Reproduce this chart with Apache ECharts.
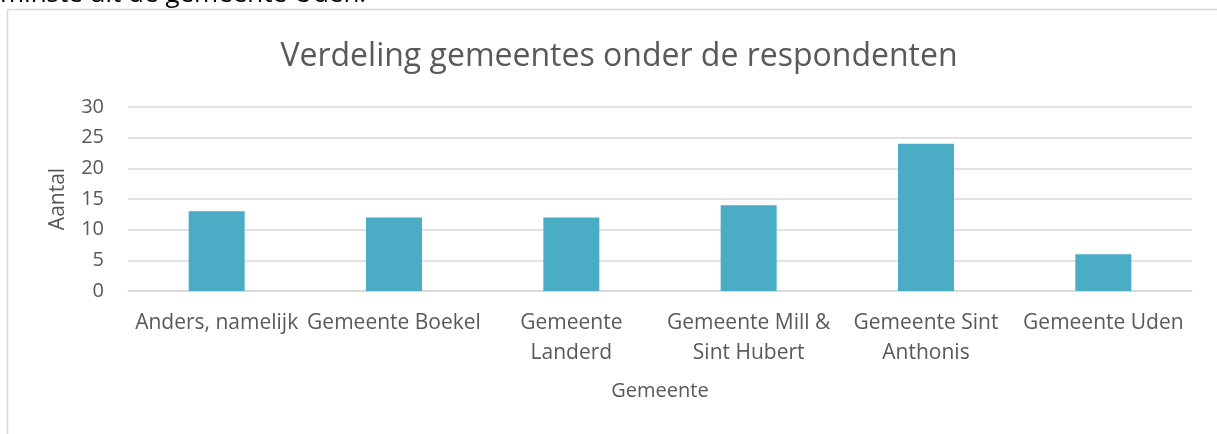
<!DOCTYPE html>
<html>
<head>
<meta charset="utf-8">
<script src="https://cdn.jsdelivr.net/npm/echarts@6/dist/echarts.min.js"></script>
<style>
  html, body { margin: 0; padding: 0; background: #fff; }
  #chart { width: 1217px; height: 434px; }
</style>
</head>
<body>
<div id="chart"></div>
<script>
// data
var categories = [
  "Anders, namelijk",
  "Gemeente Boekel",
  "Gemeente\nLanderd",
  "Gemeente Mill &\nSint Hubert",
  "Gemeente Sint\nAnthonis",
  "Gemeente Uden"
];
var aantal = [13, 12, 12, 14, 24, 6];
var yTicks = [0, 5, 10, 15, 20, 25, 30];

var textColor = "#595959";
var fontName = "Open Sans";

var chart = echarts.init(document.getElementById("chart"));

var option = {
  backgroundColor: "#fff",
  animation: false,
  title: {
    text: "Verdeling gemeentes onder de respondenten",
    left: 614,
    textAlign: "center",
    top: 36,
    textStyle: {
      color: textColor,
      fontFamily: fontName,
      fontSize: 32,
      fontWeight: "normal"
    }
  },
  graphic: [
    {
      // frame of the chart box
      type: "rect",
      shape: { x: 7.5, y: 9.5, width: 1300, height: 600 },
      style: { fill: "none", stroke: "#d9d9d9", lineWidth: 1.5 },
      silent: true
    },
    {
      // text of the page above, cut off
      type: "text",
      x: 0,
      y: 0,
      style: {
        x: 0,
        y: 8,
        verticalAlign: "bottom",
        text: "minste uit de gemeente Uden.",
        fill: "#000",
        font: "26px 'Open Sans'"
      }
    }
  ],
  grid: {
    left: 128,
    right: 25,
    top: 107,
    bottom: 143
  },
  xAxis: {
    type: "category",
    data: categories,
    name: "Gemeente",
    nameLocation: "middle",
    nameGap: 90,
    nameTextStyle: { color: textColor, fontFamily: fontName, fontSize: 20 },
    axisLine: { show: true, lineStyle: { color: "#d9d9d9", width: 1.5 } },
    axisTick: { show: false },
    axisLabel: {
      interval: 0,
      color: textColor,
      fontFamily: fontName,
      fontSize: 21,
      lineHeight: 30,
      margin: 17
    }
  },
  yAxis: {
    type: "value",
    min: yTicks[0],
    max: yTicks[yTicks.length - 1],
    interval: 5,
    name: "Aantal",
    nameLocation: "middle",
    nameGap: 59,
    nameRotate: 90,
    nameTextStyle: { color: textColor, fontFamily: fontName, fontSize: 21 },
    axisLine: { show: false },
    axisTick: { show: false },
    axisLabel: {
      color: textColor,
      fontFamily: fontName,
      fontSize: 20,
      margin: 24
    },
    splitLine: { lineStyle: { color: "#d9d9d9", width: 1.5 } }
  },
  series: [
    {
      name: "Aantal",
      type: "bar",
      data: aantal,
      barWidth: 56,
      itemStyle: { color: "#4bacc6" }
    }
  ]
};

chart.setOption(option);
</script>
</body>
</html>
